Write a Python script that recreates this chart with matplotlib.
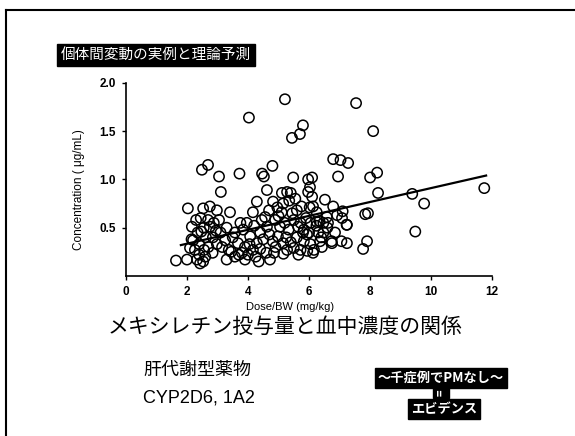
import matplotlib
matplotlib.use("Agg")
import matplotlib.pyplot as plt
from matplotlib.lines import Line2D

# individual patients: dose per body weight (mg/kg) vs plasma concentration (ug/mL)
dose = [
    5.21, 4.03, 5.80, 5.70, 5.44, 7.54, 8.10,
    6.79, 7.03, 7.28, 2.69, 2.49, 3.05, 3.72, 4.80, 4.46, 4.52, 5.48, 5.97, 6.10,
    6.95, 8.00, 8.23, 8.26, 9.38, 11.74, 9.77, 9.48, 7.84, 7.93, 7.90, 7.77,
    3.11, 6.03, 5.11, 5.28, 5.40, 5.97, 4.62,
    4.29, 4.82, 6.52, 6.10, 2.03, 2.53, 2.75, 2.98, 3.41, 4.16, 4.69, 4.96, 5.10,
    5.60, 6.02, 6.25, 6.79, 7.10, 6.13, 6.92, 7.08, 7.24, 6.62, 6.34,
    2.16, 2.69, 3.05, 2.75, 2.47, 2.20, 2.10, 1.64, 2.00, 2.33, 2.43, 2.53, 2.26,
    2.56, 2.84, 2.98, 3.25, 3.37, 3.57, 3.67, 3.84, 3.96, 4.07, 3.80, 4.00, 4.16,
    3.57, 3.30, 4.72, 4.29, 4.40, 4.62, 4.56, 4.89, 5.05, 4.98, 4.81, 5.15, 5.28,
    5.50, 5.33, 5.50, 5.72, 5.83, 6.00, 5.83, 6.04, 5.72, 5.94, 6.16, 6.36, 6.47,
    6.25, 6.58, 6.74, 7.06, 7.23, 6.47, 6.75, 7.24, 6.42, 6.13, 5.16, 5.80, 5.93,
    6.24, 5.64,
    2.40, 2.60, 2.70, 2.85, 2.95, 2.62, 2.40, 2.55, 2.88, 3.10, 3.15, 3.45, 3.50,
    3.70, 3.90, 4.05, 4.25, 4.40, 4.50, 4.60, 4.70, 4.90, 5.00, 5.20, 5.25, 5.40,
    5.45, 5.60, 5.65, 5.90, 6.05, 6.30, 6.40, 6.60, 6.85, 5.15, 5.35, 5.55, 5.75,
    4.45, 4.20, 3.75, 3.30, 2.35, 2.15, 2.30, 2.45, 4.85, 4.35, 3.90,
]
conc = [
    1.83, 1.64, 1.56, 1.47, 1.43, 1.79, 1.50,
    1.21, 1.20, 1.17, 1.15, 1.10, 1.03, 1.06, 1.14, 1.06, 1.03, 1.02, 1.00, 1.02,
    1.03, 1.02, 1.07, 0.86, 0.85, 0.91, 0.75, 0.46, 0.64, 0.65, 0.36, 0.28,
    0.87, 0.92, 0.86, 0.87, 0.86, 0.87, 0.89,
    0.77, 0.77, 0.79, 0.82, 0.70, 0.70, 0.72, 0.68, 0.66, 0.66, 0.68, 0.71, 0.66,
    0.68, 0.71, 0.66, 0.72, 0.67, 0.72, 0.63, 0.60, 0.53, 0.55, 0.57,
    0.51, 0.58, 0.58, 0.51, 0.46, 0.37, 0.29, 0.16, 0.17, 0.17, 0.13, 0.15, 0.27,
    0.27, 0.24, 0.33, 0.37, 0.27, 0.45, 0.34, 0.48, 0.55, 0.41, 0.24, 0.22, 0.27,
    0.20, 0.17, 0.17, 0.34, 0.45, 0.51, 0.61, 0.58, 0.51, 0.41, 0.36, 0.34, 0.27,
    0.29, 0.48, 0.58, 0.55, 0.48, 0.45, 0.36, 0.33, 0.27, 0.26, 0.27, 0.36, 0.45,
    0.56, 0.61, 0.36, 0.36, 0.53, 0.55, 0.34, 0.34, 0.30, 0.24, 0.23, 0.45, 0.43,
    0.52, 0.51,
    0.22, 0.20, 0.30, 0.40, 0.47, 0.40, 0.33, 0.50, 0.55, 0.45, 0.30, 0.25, 0.40,
    0.22, 0.30, 0.33, 0.20, 0.28, 0.38, 0.24, 0.43, 0.30, 0.62, 0.55, 0.40, 0.35,
    0.65, 0.40, 0.22, 0.60, 0.55, 0.45, 0.40, 0.50, 0.45, 0.75, 0.78, 0.80, 0.72,
    0.58, 0.52, 0.55, 0.50, 0.45, 0.38, 0.58, 0.60, 0.24, 0.15, 0.17,
]

# regression line end points
fit_x = [1.8, 11.8]
fit_y = [0.32, 1.04]

xticks = [0, 2, 4, 6, 8, 10, 12]
yticks = [0.5, 1.0, 1.5, 2.0]
ytick_labels = ["0.5", "1.0", "1.5", "2.0"]

jp = ["Noto Sans CJK JP", "DejaVu Sans"]

fig = plt.figure(figsize=(5.75, 4.36), dpi=100)
ax = fig.add_axes([0.219, 0.367, 0.637, 0.443])

ax.scatter(dose, conc, s=55, facecolors="none", edgecolors="black", linewidths=1.1, zorder=2)
ax.plot(fit_x, fit_y, color="black", linewidth=1.6, zorder=3)

ax.set_xlim(0, 12)
ax.set_ylim(0, 2.0)
ax.set_xticks(xticks)
ax.set_xticklabels([str(t) for t in xticks], fontsize=8.5, fontweight="bold", family="Liberation Sans")
ax.set_yticks(yticks)
ax.set_yticklabels(ytick_labels, fontsize=8.5, fontweight="bold", family="Liberation Sans")
ax.tick_params(direction="out", length=3, width=1, pad=4)
ax.spines["top"].set_visible(False)
ax.spines["right"].set_visible(False)
ax.spines["left"].set_linewidth(1.2)
ax.spines["bottom"].set_linewidth(1.2)

ax.set_xlabel("Dose/BW (mg/kg)", fontsize=8, family="Liberation Sans")
ax.xaxis.set_label_coords(0.448, -0.135)
ax.set_ylabel("Concentration ( μg/mL)", fontsize=8.5, family="Liberation Sans")
ax.yaxis.set_label_coords(-0.112, 0.45)

# slide frame (top and left edges)
fig.add_artist(Line2D([6 / 575, 1.0], [1 - 10 / 436, 1 - 10 / 436], color="black", linewidth=1.5))
fig.add_artist(Line2D([6 / 575, 6 / 575], [0.0, 1 - 10 / 436], color="black", linewidth=1.5))

fig.text(0.271, 0.874, "個体間変動の実例と理論予測", family=jp, fontsize=10.5, color="white",
         ha="center", va="center",
         bbox=dict(boxstyle="square,pad=0.25", facecolor="black", edgecolor="black"))

fig.text(0.496, 0.250, "メキシレチン投与量と血中濃度の関係", family=jp, fontsize=15,
         ha="center", va="center")
fig.text(0.249, 0.151, "肝代謝型薬物", family=jp, fontsize=13, ha="left", va="center")
fig.text(0.249, 0.087, "CYP2D6, 1A2", family="Liberation Sans", fontsize=13, ha="left", va="center")

fig.text(0.767, 0.133, "～千症例でPMなし～", family=jp, fontsize=9.5, fontweight="bold", color="white",
         ha="center", va="center",
         bbox=dict(boxstyle="square,pad=0.2", facecolor="black", edgecolor="black"))
fig.text(0.767, 0.099, "=", family=jp, fontsize=8, fontweight="bold", color="white", rotation=90,
         ha="center", va="center",
         bbox=dict(boxstyle="square,pad=0.15", facecolor="black", edgecolor="black"))
fig.text(0.772, 0.062, "エビデンス", family=jp, fontsize=9.5, fontweight="bold", color="white",
         ha="center", va="center",
         bbox=dict(boxstyle="square,pad=0.2", facecolor="black", edgecolor="black"))

fig.savefig("out.png", dpi=100)
